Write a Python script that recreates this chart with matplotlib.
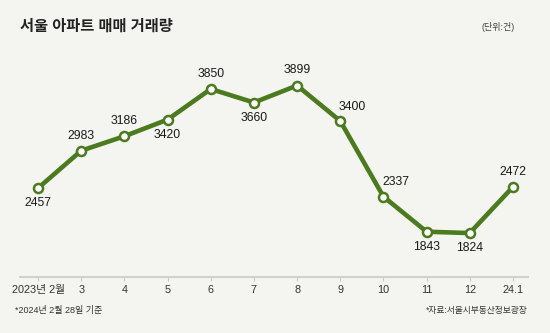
import matplotlib.pyplot as plt

months = ['2023년 2월', '3', '4', '5', '6', '7', '8', '9', '10', '11', '12', '24.1']
deals = [2457, 2983, 3186, 3420, 3850, 3660, 3899, 3400, 2337, 1843, 1824, 2472]
# where each value label sits relative to its point
label_pos = ['below', 'above', 'above', 'below', 'above', 'below',
             'above', 'right', 'right', 'below', 'below', 'above']

bg = '#f4f5f0'
green = '#4b7a1f'
fonts = ['Liberation Sans', 'Noto Sans CJK KR']
plt.rcParams['font.family'] = fonts

fig = plt.figure(figsize=(5.5, 3.33), dpi=100, facecolor=bg)
ax = fig.add_axes([20/550, 1-277/333, 508/550, 217/333])
ax.set_facecolor(bg)

x = list(range(len(deals)))
ax.plot(x, deals, color=green, lw=3.3, solid_joinstyle='round', zorder=2)
ax.plot(x, deals, 'o', ms=6.5, mfc='white', mec=green, mew=1.8, zorder=3)

for i, v in enumerate(deals):
    p = label_pos[i]
    if p == 'above':
        ax.annotate(str(v), (i, v), xytext=(0, 6.5), textcoords='offset points',
                    ha='center', va='bottom', fontsize=8.8, color='#1a1a1a')
    elif p == 'below':
        ax.annotate(str(v), (i, v), xytext=(0, -6.5), textcoords='offset points',
                    ha='center', va='top', fontsize=8.8, color='#1a1a1a')
    else:
        ax.annotate(str(v), (i, v), xytext=(-1, 6), textcoords='offset points',
                    ha='left', va='bottom', fontsize=8.8, color='#1a1a1a')

ax.set_xlim(-0.42, 11.35)
ax.set_ylim(1206, 4258)
ax.set_xticks(x)
ax.set_xticklabels(months, fontsize=7.8, color='#333333')
ax.set_yticks([])
for s in ['top', 'right', 'left']:
    ax.spines[s].set_visible(False)
ax.spines['bottom'].set_color('#d0d0cc')
ax.spines['bottom'].set_linewidth(1.5)
ax.tick_params(axis='x', length=3, width=0.8, color='#c8c8c4', pad=3)

fig.text(20/550, 1-27/333, '서울 아파트 매매 거래량', fontsize=11, fontweight='bold',
         color='#222222', va='center', ha='left')
fig.text(515/550, 1-27/333, '(단위:건)', fontsize=6.5, color='#444444',
         va='center', ha='right')
fig.text(15/550, 1-311/333, '*2024년 2월 28일 기준', fontsize=6.5, color='#333333',
         va='center', ha='left')
fig.text(528/550, 1-311/333, '*자료:서울시부동산정보광장', fontsize=6.3, color='#333333',
         va='center', ha='right')

fig.savefig('out.png', dpi=100, facecolor=bg)
